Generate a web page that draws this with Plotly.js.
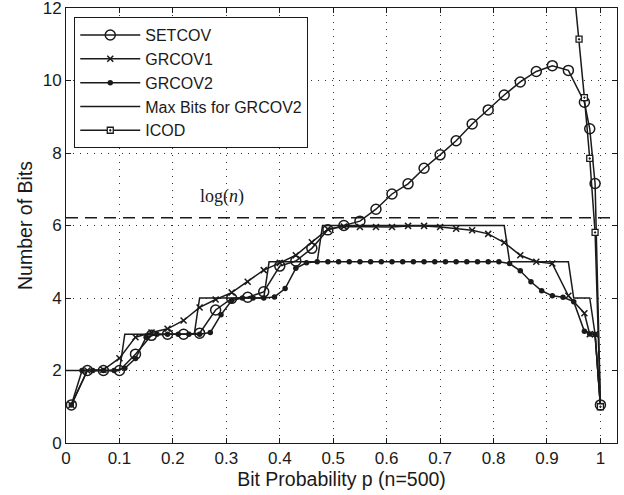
<!DOCTYPE html>
<html>
<head>
<meta charset="utf-8">
<script src="https://cdn.plot.ly/plotly-3.0.1.min.js"></script>
<style>
  html, body { margin: 0; padding: 0; background: #fff; }
  #chart { width: 624px; height: 495px; }
</style>
</head>
<body>
<div id="chart"></div>
<script>
// ---- data ----
const setcovP = [0.01,0.04,0.07,0.10,0.13,0.16,0.19,0.22,0.25,0.28,0.31,0.34,0.37,0.40,0.43,0.46,0.49,0.52,0.55,0.58,0.61,0.64,0.67,0.70,0.73,0.76,0.79,0.82,0.85,0.88,0.91,0.94,0.97,0.98,0.99,1.00];
const setcovV = [1.05,2.00,2.00,2.00,2.45,2.97,3.00,3.00,3.03,3.67,3.99,4.02,4.17,4.88,5.02,5.37,5.88,6.00,6.12,6.45,6.87,7.15,7.58,7.95,8.34,8.80,9.19,9.60,9.96,10.25,10.41,10.28,9.40,8.67,7.16,1.05];

const grcov1P = [0.01,0.04,0.07,0.10,0.13,0.16,0.19,0.22,0.25,0.28,0.31,0.34,0.37,0.40,0.43,0.46,0.49,0.52,0.55,0.58,0.61,0.64,0.67,0.70,0.73,0.76,0.79,0.82,0.85,0.88,0.91,0.94,0.97,0.98,0.99,1.00];
const grcov1V = [1.05,2.00,2.02,2.34,2.92,3.05,3.15,3.38,3.74,3.96,4.15,4.45,4.77,4.97,5.18,5.54,5.90,5.97,5.96,5.96,5.96,5.99,5.99,5.96,5.91,5.87,5.77,5.53,5.18,5.00,4.95,4.06,3.58,3.00,3.00,1.02];

const grcov2P = [0.01,0.03,0.05,0.07,0.09,0.11,0.13,0.15,0.17,0.19,0.21,0.23,0.25,0.27,0.29,0.31,0.33,0.35,0.37,0.39,0.41,0.43,0.45,0.47,0.49,0.51,0.53,0.55,0.57,0.59,0.61,0.63,0.65,0.67,0.69,0.71,0.73,0.75,0.77,0.79,0.81,0.83,0.85,0.87,0.89,0.91,0.93,0.95,0.97,0.98,0.99,1.00];
const grcov2V = [1.05,2.00,2.00,2.00,2.00,2.06,2.33,2.92,3.00,3.00,3.00,3.00,3.00,3.05,3.54,3.93,4.00,4.00,4.00,4.03,4.26,4.82,4.97,5.00,5.00,5.00,5.00,5.00,5.00,5.00,5.00,5.00,5.00,5.00,5.00,5.00,5.00,5.00,5.00,5.00,5.00,4.95,4.75,4.45,4.20,4.06,4.02,3.90,3.08,3.01,2.99,1.02];

const maxBitsP = [0.00,0.01,0.02,0.03,0.04,0.05,0.06,0.07,0.08,0.09,0.10,0.11,0.12,0.13,0.14,0.15,0.16,0.17,0.18,0.19,0.20,0.21,0.22,0.23,0.24,0.25,0.26,0.27,0.28,0.29,0.30,0.31,0.32,0.33,0.34,0.35,0.36,0.37,0.38,0.39,0.40,0.41,0.42,0.43,0.44,0.45,0.46,0.47,0.48,0.49,0.50,0.51,0.52,0.53,0.54,0.55,0.56,0.57,0.58,0.59,0.60,0.61,0.62,0.63,0.64,0.65,0.66,0.67,0.68,0.69,0.70,0.71,0.72,0.73,0.74,0.75,0.76,0.77,0.78,0.79,0.80,0.81,0.82,0.83,0.84,0.85,0.86,0.87,0.88,0.89,0.90,0.91,0.92,0.93,0.94,0.95,0.96,0.97,0.98,0.99,1.00];
const maxBitsV = [2,2,2,2,2,2,2,2,2,2,2,3,3,3,3,3,3,3,3,3,3,3,3,3,3,4,4,4,4,4,4,4,4,4,4,4,4,4,5,5,5,5,5,5,5,5,5,5,6,6,6,6,6,6,6,6,6,6,6,6,6,6,6,6,6,6,6,6,6,6,6,6,6,6,6,6,6,6,6,6,6,6,6,5,5,5,5,5,5,5,5,5,5,5,5,4,4,4,4,3,1];

const icodP = [0.95,0.96,0.97,0.98,0.99,1.00];
const icodV = [12.6,11.14,9.53,7.85,5.81,1.00];

const logN = 6.2146;          // ln(500)
const xTickVals = [0,0.1,0.2,0.3,0.4,0.5,0.6,0.7,0.8,0.9,1];
const xTickText = ['0','0.1','0.2','0.3','0.4','0.5','0.6','0.7','0.8','0.9','1'];
const yTickVals = [0,2,4,6,8,10,12];
const yTickText = ['0','2','4','6','8','10','12'];

// ---- styling ----
const ink = '#1a1a1a';
const lineW = 1.5;
const FONT = 'Liberation Sans, Arial, Helvetica, sans-serif';

const traces = [
  { name: 'SETCOV', x: setcovP, y: setcovV, mode: 'lines+markers',
    line: {color: ink, width: lineW},
    marker: {symbol: 'circle-open', size: 10, color: ink, line: {width: 1.5, color: ink}} },
  { name: 'GRCOV1', x: grcov1P, y: grcov1V, mode: 'lines+markers',
    line: {color: ink, width: lineW},
    marker: {symbol: 'x-thin-open', size: 6, color: ink, line: {width: 1.5, color: ink}} },
  { name: 'GRCOV2', x: grcov2P, y: grcov2V, mode: 'lines+markers',
    line: {color: ink, width: lineW},
    marker: {symbol: 'circle', size: 5.5, color: ink} },
  { name: 'Max Bits for GRCOV2', x: maxBitsP, y: maxBitsV, mode: 'lines',
    line: {color: ink, width: lineW} },
  { name: 'ICOD', x: icodP, y: icodV, mode: 'lines+markers',
    line: {color: ink, width: lineW},
    marker: {symbol: 'square-dot', size: 6, color: '#ffffff', line: {width: 1.3, color: ink}} }
];

const axisCommon = {
  showline: true, linecolor: ink, linewidth: 1, mirror: 'ticks',
  ticks: 'inside', ticklen: 5, tickcolor: ink, tickwidth: 1,
  showgrid: true, gridcolor: '#333', gridwidth: 1, griddash: '1px,6px',
  zeroline: false, ticklabeloverflow: 'allow',
  tickfont: {family: FONT, size: 17, color: ink}
};

const layout = {
  width: 624, height: 495,
  margin: {l: 66, r: 7, t: 8, b: 52},
  paper_bgcolor: '#fff', plot_bgcolor: '#fff',
  font: {family: FONT, color: ink},
  showlegend: true,
  xaxis: Object.assign({}, axisCommon, {
    range: [0, 1.031], tickmode: 'array', tickvals: xTickVals, ticktext: xTickText,
    automargin: false,
    title: {text: 'Bit Probability p (n=500)', font: {family: FONT, size: 19.5, color: ink}, standoff: 2}
  }),
  yaxis: Object.assign({}, axisCommon, {
    range: [0, 12.001], tickmode: 'array', tickvals: yTickVals, ticktext: yTickText,
    automargin: false,
    title: {text: 'Number of Bits', font: {family: FONT, size: 19.5, color: ink}, standoff: 4}
  }),
  legend: {
    x: 0.015, y: 0.979, xanchor: 'left', yanchor: 'top',
    bgcolor: '#fff', bordercolor: ink, borderwidth: 1,
    font: {family: FONT, size: 16, color: ink},
    itemwidth: 60, tracegroupgap: 0
  },
  shapes: [
    { type: 'line', xref: 'paper', x0: 0, x1: 1, yref: 'y', y0: logN, y1: logN,
      line: {color: ink, width: 1.6, dash: '12px,7px'} }
  ],
  annotations: [
    { x: 0.292, y: logN + 0.58, xref: 'x', yref: 'y', showarrow: false,
      text: 'log(<i>n</i>)', font: {family: 'Liberation Serif, Times New Roman, serif', size: 18, color: ink} }
  ]
};

Plotly.newPlot('chart', traces, layout, {displayModeBar: false, staticPlot: true});
</script>
</body>
</html>
